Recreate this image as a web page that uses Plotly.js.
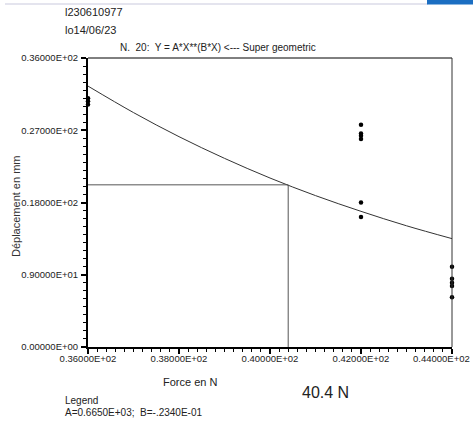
<!DOCTYPE html>
<html>
<head>
<meta charset="utf-8">
<script src="https://cdn.plot.ly/plotly-3.0.1.min.js"></script>
<style>html,body{margin:0;padding:0;background:#fff;}#chart{width:473px;height:425px;}</style>
</head>
<body>
<div id="chart"></div>
<script>
const curveX = [36, 37, 38, 39, 40, 41, 42, 43, 44];
const curveY = [32.5, 29.2, 26.2, 23.5, 21.05, 18.86, 16.9, 15.1, 13.5];
// Measured points
const pointsX = [36, 36, 36, 42, 42, 42, 42, 42, 42, 44, 44, 44, 44, 44];
const pointsY = [31.0, 30.6, 30.2, 27.7, 26.6, 26.3, 25.9, 18.0, 16.2, 10.0, 8.5, 8.0, 7.6, 6.2];
// Read-off guide at 40.4 N
const guideX = [36, 40.4, 40.4];
const guideY = [20.2, 20.2, 0];
// Ticks (last x label drawn separately so it stays inside the page)
const xTickVals = [36, 38, 40, 42, 44];
const xTickText = ["0.36000E+02", "0.38000E+02", "0.40000E+02", "0.42000E+02", ""];
const xLastLabel = "0.44000E+02";
const yTickVals = [0, 9, 18, 27, 36];
const yTickText = ["0.00000E+00", "0.90000E+01", "0.18000E+02", "0.27000E+02", "0.36000E+02"];

const F = "Liberation Sans, Arial, sans-serif";
const W = 473, H = 425, L = 88, R = 21, T = 58, B = 78;
const PW = W - L - R, PH = H - T - B;
const px = v => (v - L) / PW;          // page x pixel -> paper
const py = v => (H - B - v) / PH;      // page y pixel -> paper

const traces = [
  {x: curveX, y: curveY, mode: "lines", line: {color: "#333333", width: 1, shape: "spline"}, hoverinfo: "skip"},
  {x: guideX, y: guideY, mode: "lines", line: {color: "#555555", width: 1}, hoverinfo: "skip"},
  {x: pointsX, y: pointsY, mode: "markers", marker: {color: "#000000", size: 4.5}, cliponaxis: false}
];

const layout = {
  width: W, height: H,
  margin: {l: L, r: R, t: T, b: B, pad: 0},
  paper_bgcolor: "#ffffff", plot_bgcolor: "#ffffff",
  showlegend: false,
  font: {family: F, size: 10, color: "#222222"},
  title: {text: "N.  20:  Y = A*X**(B*X) <--- Super geometric", font: {family: F, size: 10, color: "#222"},
          x: 120/W, xanchor: "left", xref: "container", y: 1 - 47/H, yanchor: "middle", yref: "container"},
  xaxis: {range: [36, 44], tickvals: xTickVals, ticktext: xTickText, ticks: "outside", ticklen: 5, tickwidth: 2,
          tickcolor: "#000", showline: true, linecolor: "#000", linewidth: 2, showgrid: false, zeroline: false,
          tickfont: {family: F, size: 9.5, color: "#222"}, ticklabelstandoff: -3,
          minor: {dtick: 0.2, ticks: "outside", ticklen: 3, tickwidth: 1, tickcolor: "#000", showgrid: false}},
  yaxis: {range: [0, 36], tickvals: yTickVals, ticktext: yTickText, ticks: "outside", ticklen: 5, tickwidth: 2,
          tickcolor: "#000", showline: true, linecolor: "#000", linewidth: 2, showgrid: false, zeroline: false,
          tickfont: {family: F, size: 9.5, color: "#222"}, ticklabelstandoff: 1,
          minor: {dtick: 1, ticks: "outside", ticklen: 3, tickwidth: 1, tickcolor: "#000", showgrid: false}},
  shapes: [
    {type: "line", xref: "paper", yref: "paper", x0: 0, x1: 1, y0: 1, y1: 1, line: {color: "#000", width: 1}},
    {type: "line", xref: "paper", yref: "paper", x0: 1, x1: 1, y0: 0, y1: 1, line: {color: "#333", width: 1}},
    {type: "rect", xref: "paper", yref: "paper", x0: px(5), x1: px(428), y0: py(4.5), y1: py(3.5), line: {width: 0}, fillcolor: "#c9c9de"},
    {type: "rect", xref: "paper", yref: "paper", x0: px(427), x1: px(473), y0: py(4.5), y1: py(0), line: {width: 0}, fillcolor: "#1b6ec2"}
  ],
  annotations: [
    {text: xLastLabel, xref: "paper", yref: "paper", x: px(472), y: py(358), xanchor: "right", yanchor: "middle", showarrow: false, font: {family: F, size: 9.5, color: "#222"}},
    {text: "l230610977", xref: "paper", yref: "paper", x: px(63), y: py(12), xanchor: "left", yanchor: "middle", showarrow: false, font: {family: F, size: 11, color: "#222"}},
    {text: "lo14/06/23", xref: "paper", yref: "paper", x: px(63), y: py(30), xanchor: "left", yanchor: "middle", showarrow: false, font: {family: F, size: 11, color: "#222"}},
    {text: "Déplacement en mm", xref: "paper", yref: "paper", x: px(16), y: py(206), xanchor: "center", yanchor: "middle", textangle: -90, showarrow: false, font: {family: F, size: 11, color: "#333"}},
    {text: "Force en N", xref: "paper", yref: "paper", x: px(190), y: py(382), xanchor: "center", yanchor: "middle", showarrow: false, font: {family: F, size: 11, color: "#222"}},
    {text: "40.4 N", xref: "paper", yref: "paper", x: px(325), y: py(392), xanchor: "center", yanchor: "middle", showarrow: false, font: {family: F, size: 16, color: "#222"}},
    {text: "Legend", xref: "paper", yref: "paper", x: px(63), y: py(400), xanchor: "left", yanchor: "middle", showarrow: false, font: {family: F, size: 10, color: "#222"}},
    {text: "A=0.6650E+03;  B=-.2340E-01", xref: "paper", yref: "paper", x: px(63), y: py(412), xanchor: "left", yanchor: "middle", showarrow: false, font: {family: F, size: 10, color: "#222"}}
  ]
};

Plotly.newPlot("chart", traces, layout, {displayModeBar: false, staticPlot: true});
</script>
</body>
</html>
